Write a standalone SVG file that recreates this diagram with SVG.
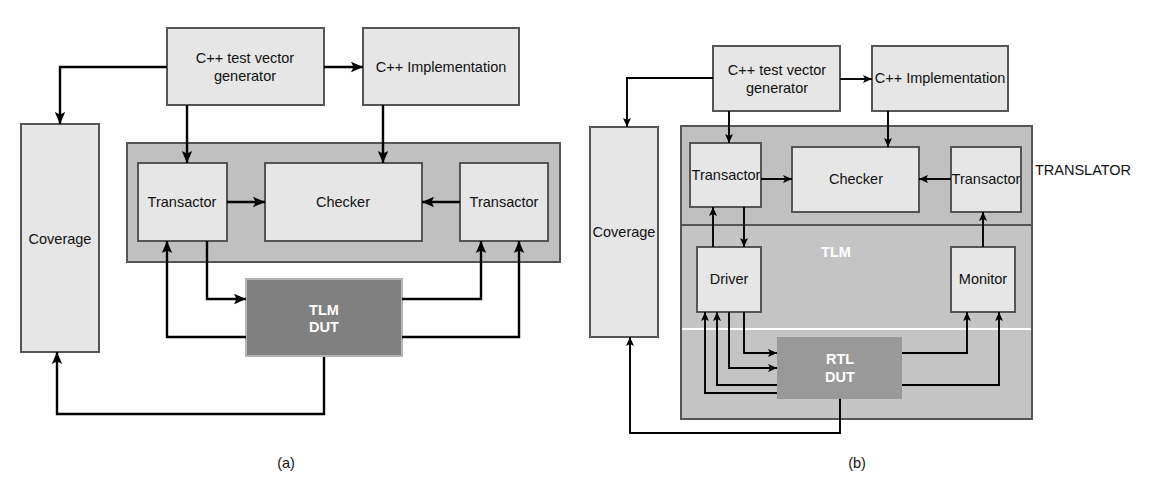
<svg xmlns="http://www.w3.org/2000/svg" width="1152" height="486" viewBox="0 0 1152 486">
<style>
text{font-family:"Liberation Sans",Arial,sans-serif;font-size:14.5px;fill:#111;text-anchor:middle}
.box{fill:#e6e6e6;stroke:#555;stroke-width:2}
.cont{fill:#c0c0c0;stroke:#555;stroke-width:2}
.wl{fill:#fff;font-weight:bold}
.ca{fill:none;stroke:#000;stroke-width:2.4;marker-end:url(#ha)}
.cb{fill:none;stroke:#000;stroke-width:1.9;marker-end:url(#hb)}
</style>
<defs>
<marker id="ha" markerUnits="userSpaceOnUse" markerWidth="14" markerHeight="14" viewBox="0 0 14 14" refX="13" refY="7" orient="auto"><path d="M1,1.8 L13,7 L1,12.2 L3.5,7 Z" fill="#000"/></marker>
<marker id="hb" markerUnits="userSpaceOnUse" markerWidth="10" markerHeight="10" viewBox="0 0 10 10" refX="9.5" refY="5" orient="auto"><path d="M0.5,1 L9.5,5 L0.5,9 L2.5,5 Z" fill="#000"/></marker>
</defs>
<rect width="1152" height="486" fill="#fff"/>

<!-- ===== (a) ===== -->
<g id="a-container"><rect class="cont" x="127" y="143" width="433" height="119"/></g>
<g id="a-gen"><rect class="box" x="167" y="28" width="157" height="77"/><text x="245" y="63">C++ test vector</text><text x="245" y="81">generator</text></g>
<g id="a-impl"><rect class="box" x="363" y="28" width="156" height="77"/><text x="441" y="72">C++ Implementation</text></g>
<g id="a-coverage"><rect class="box" x="21" y="124" width="78" height="228"/><text x="60" y="244">Coverage</text></g>
<g id="a-transL"><rect class="box" x="138" y="163" width="89" height="78"/><text x="182" y="207">Transactor</text></g>
<g id="a-checker"><rect class="box" x="265" y="163" width="157" height="78"/><text x="343" y="207">Checker</text></g>
<g id="a-transR"><rect class="box" x="460" y="163" width="88" height="78"/><text x="504" y="207">Transactor</text></g>
<g id="a-dut"><rect x="246" y="279" width="156" height="77" fill="#808080" stroke="#b4b4b4" stroke-width="2"/><text class="wl" x="324" y="315">TLM</text><text class="wl" x="324" y="332">DUT</text></g>
<text x="286" y="468">(a)</text>

<!-- ===== (b) ===== -->
<g id="b-container"><rect class="cont" x="681" y="126" width="351" height="293"/><rect x="682" y="226" width="349" height="192" fill="#c4c4c4"/><line x1="681" y1="225" x2="1032" y2="225" stroke="#555" stroke-width="2"/><line x1="682" y1="329" x2="1031" y2="329" stroke="#fff" stroke-width="1.8"/><text x="1083" y="175">TRANSLATOR</text><text class="wl" x="836" y="257">TLM</text></g>
<g id="b-gen"><rect class="box" x="713" y="46" width="127" height="65"/><text x="777" y="75">C++ test vector</text><text x="777" y="93">generator</text></g>
<g id="b-impl"><rect class="box" x="872" y="46" width="136" height="65"/><text x="940" y="83">C++ Implementation</text></g>
<g id="b-coverage"><rect class="box" x="590" y="127" width="68" height="210"/><text x="624" y="237">Coverage</text></g>
<g id="b-transL"><rect class="box" x="690" y="143" width="71" height="64"/><text x="726" y="180">Transactor</text></g>
<g id="b-checker"><rect class="box" x="792" y="147" width="127" height="65"/><text x="856" y="184">Checker</text></g>
<g id="b-transR"><rect class="box" x="951" y="147" width="70" height="65"/><text x="986" y="184">Transactor</text></g>
<g id="b-driver"><rect class="box" x="697" y="247" width="64" height="65"/><text x="729" y="284">Driver</text></g>
<g id="b-monitor"><rect class="box" x="951" y="247" width="64" height="65"/><text x="983" y="284">Monitor</text></g>
<g id="b-dut"><rect x="777" y="337" width="125" height="62" fill="#999"/><text class="wl" x="840" y="364">RTL</text><text class="wl" x="840" y="382">DUT</text></g>
<text x="857" y="468">(b)</text>

<g id="connectors">
<path class="ca" d="M167,67 H60 V124"/>
<path class="ca" d="M324,67 H363"/>
<path class="ca" d="M187,105 V163"/>
<path class="ca" d="M383,105 V163"/>
<path class="ca" d="M227,202 H265"/>
<path class="ca" d="M460,202 H422"/>
<path class="ca" d="M207,241 V299 H246"/>
<path class="ca" d="M246,337 H167 V241"/>
<path class="ca" d="M402,299 H481 V241"/>
<path class="ca" d="M402,337 H519 V241"/>
<path class="ca" d="M324,357 V414 H57 V352"/>

<path class="cb" d="M713,78 H627 V127"/>
<path class="cb" d="M840,79 H872"/>
<path class="cb" d="M729,111 V143"/>
<path class="cb" d="M888,111 V147"/>
<path class="cb" d="M761,179 H792"/>
<path class="cb" d="M951,179 H919"/>
<path class="cb" d="M713,247 V207"/>
<path class="cb" d="M744,207 V247"/>
<path class="cb" d="M983,247 V212"/>
<path class="cb" d="M744,312 V353 H777"/>
<path class="cb" d="M729,312 V368 H777"/>
<path class="cb" d="M777,385 H717 V312"/>
<path class="cb" d="M777,393 H705 V312"/>
<path class="cb" d="M902,353 H967 V312"/>
<path class="cb" d="M902,385 H999 V312"/>
<path class="cb" d="M840,399 V433 H630 V337"/>
</g>
</svg>
